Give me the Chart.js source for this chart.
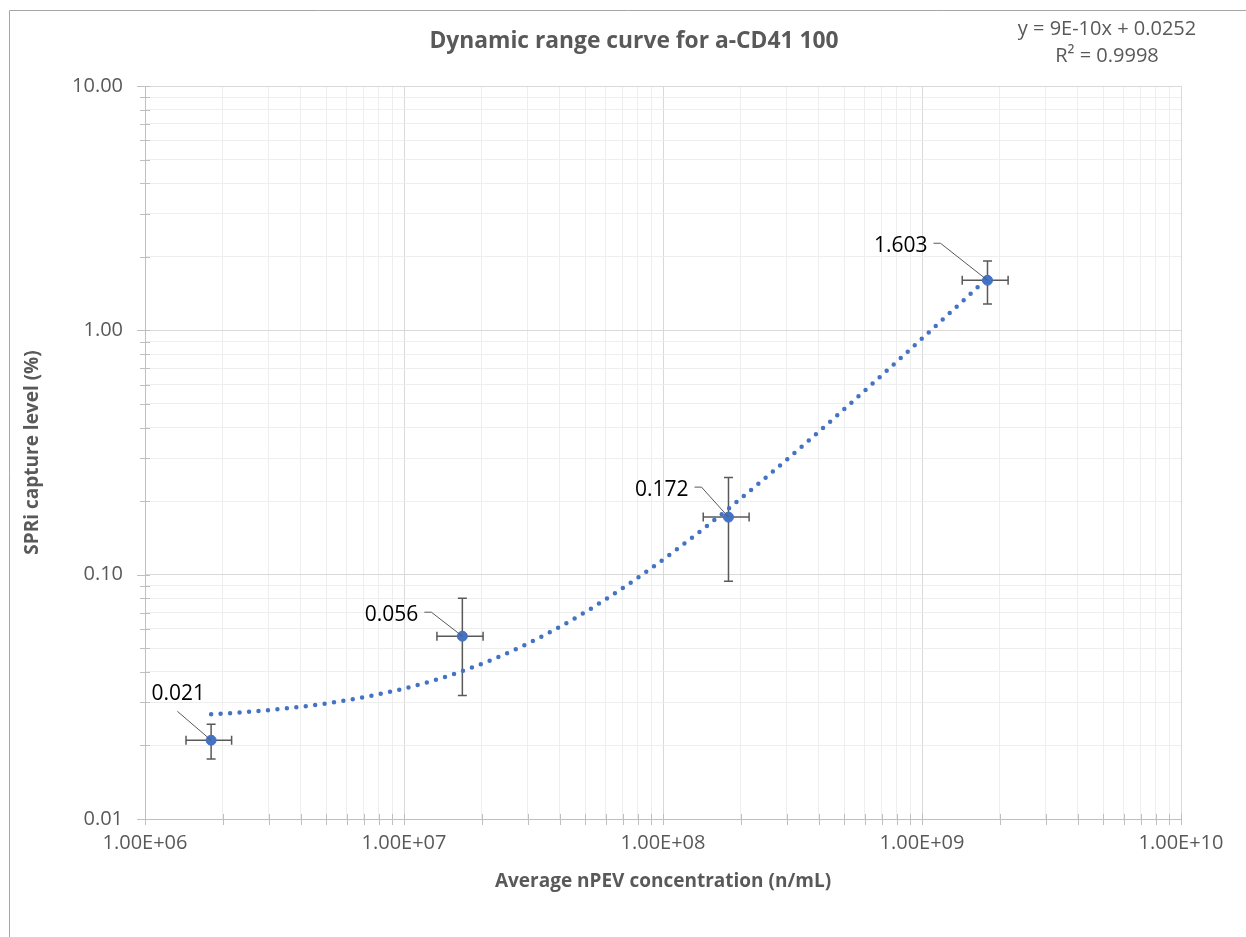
<!DOCTYPE html>
<html><head><meta charset="utf-8">
<script src="https://cdn.jsdelivr.net/npm/chart.js@4.4.1/dist/chart.umd.min.js"></script>
<style>html,body{margin:0;padding:0;background:#fff;}#wrap{width:1246px;height:937px;position:relative;}</style>
</head><body><div id="wrap"><canvas id="c" width="1246" height="937"></canvas></div>
<script>
// ---- data ----
const concentrations = [1.8e6, 1.68e7, 1.79e8, 1.79e9];      // x (n/mL)
const captureLevels  = [0.021, 0.056, 0.172, 1.603];          // y (%)
const concErrors     = [3.6e5, 3.4e6, 3.6e7, 3.6e8];          // ± x
const captureErrors  = [0.0034, 0.024, 0.078, 0.32];          // ± y
const pointLabels    = ['0.021', '0.056', '0.172', '1.603'];
const trendSlope = 9e-10;
const trendIntercept = 0.0252;
const trendText = ['y = 9E-10x + 0.0252', 'R\u00B2 = 0.9998'];
const xDecadeLabels = ['1.00E+06', '1.00E+07', '1.00E+08', '1.00E+09', '1.00E+10'];
const yDecadeLabels = ['0.01', '0.10', '1.00', '10.00'];
const chartTitle = 'Dynamic range curve for a-CD41 100';
const xTitle = 'Average nPEV concentration (n/mL)';
const yTitle = 'SPRi capture level (%)';

// ---- styling ----
const FONT = '"Open Sans", "DejaVu Sans", sans-serif';
const GREY = '#595959';
const BLUE = '#4472C4';

const isDecade = v => Math.abs(Math.log10(v) - Math.round(Math.log10(v))) < 1e-9;
function logTicks(minExp, maxExp) {
  const out = [];
  for (let e = minExp; e < maxExp; e++) for (let k = 1; k <= 9; k++) out.push(k * Math.pow(10, e));
  out.push(Math.pow(10, maxExp));
  return out;
}

// trendline drawn from the equation shown on the chart
const trendPoints = [];
{
  const n = 160, a = Math.log10(concentrations[0]), b = Math.log10(concentrations[concentrations.length - 1]);
  for (let i = 0; i <= n; i++) {
    const x = Math.pow(10, a + (b - a) * i / n);
    trendPoints.push({x, y: trendSlope * x + trendIntercept});
  }
}

const decor = {
  id: 'decor',
  beforeDraw(chart) {
    const c = chart.ctx;
    c.save();
    c.fillStyle = '#fff'; c.fillRect(0, 0, chart.width, chart.height);
    c.strokeStyle = '#a6a6a6'; c.lineWidth = 1;
    c.beginPath(); c.moveTo(9.5, chart.height); c.lineTo(9.5, 10.5); c.lineTo(chart.width, 10.5); c.stroke();
    c.restore();
  },
  beforeDatasetsDraw(chart) {
    const c = chart.ctx, xs = chart.scales.x, ys = chart.scales.y;
    c.save(); c.strokeStyle = '#bfbfbf'; c.lineWidth = 1;
    c.beginPath();
    xs.ticks.forEach(t => { const p = Math.round(xs.getPixelForValue(t.value)) + 0.5; c.moveTo(p, ys.bottom - 5); c.lineTo(p, ys.bottom + 6); });
    ys.ticks.forEach(t => { const p = Math.round(ys.getPixelForValue(t.value)) + 0.5; c.moveTo(xs.left - (t.major ? 8 : 5), p); c.lineTo(xs.left + 5, p); });
    c.stroke(); c.restore();
  },
  beforeDatasetDraw(chart, args) {
    if (args.index !== 1) return;
    const c = chart.ctx, xs = chart.scales.x, ys = chart.scales.y, cap = 4.5;
    c.save(); c.strokeStyle = '#595959'; c.lineWidth = 1.5;
    concentrations.forEach((x, i) => {
      const y = captureLevels[i];
      const px = xs.getPixelForValue(x), py = ys.getPixelForValue(y);
      const x1 = xs.getPixelForValue(x - concErrors[i]), x2 = xs.getPixelForValue(x + concErrors[i]);
      const y1 = ys.getPixelForValue(y + captureErrors[i]), y2 = ys.getPixelForValue(y - captureErrors[i]);
      c.beginPath();
      c.moveTo(x1, py); c.lineTo(x2, py);
      c.moveTo(x1, py - cap); c.lineTo(x1, py + cap);
      c.moveTo(x2, py - cap); c.lineTo(x2, py + cap);
      c.moveTo(px, y1); c.lineTo(px, y2);
      c.moveTo(px - cap, y1); c.lineTo(px + cap, y1);
      c.moveTo(px - cap, y2); c.lineTo(px + cap, y2);
      c.stroke();
    });
    c.restore();
  },
  afterDatasetsDraw(chart) {
    const c = chart.ctx, xs = chart.scales.x, ys = chart.scales.y;
    // label placement (style): [label right-edge dx, label center dy] relative to point
    const place = [[-6, -46, 'below'], [-44, -21, 'side'], [-40, -27, 'side'], [-60, -34, 'side']];
    c.save();
    c.font = '21px ' + FONT; c.fillStyle = '#000'; c.textBaseline = 'middle'; c.textAlign = 'right';
    concentrations.forEach((x, i) => {
      const px = xs.getPixelForValue(x), py = ys.getPixelForValue(captureLevels[i]);
      const [dx, dy, mode] = place[i];
      const rx = px + dx, cy = py + dy;
      c.fillText(pointLabels[i], rx, cy);
      c.strokeStyle = '#595959'; c.lineWidth = 1;
      c.beginPath();
      if (mode === 'below') {
        const w = c.measureText(pointLabels[i]).width;
        c.moveTo(rx - w / 2 - 1, cy + 17); c.lineTo(px, py);
      } else {
        c.moveTo(rx + 6, cy - 3); c.lineTo(rx + 13, cy - 3); c.lineTo(px, py);
      }
      c.stroke();
    });
    c.restore();
  },
  afterDraw(chart) {
    const c = chart.ctx;
    c.save();
    c.fillStyle = GREY; c.textAlign = 'center'; c.textBaseline = 'middle';
    c.font = 'bold 22.8px ' + FONT;
    c.fillText(chartTitle, 634, 42);
    c.font = '20px ' + FONT;
    c.fillText(trendText[0], 1107, 29);
    c.fillText(trendText[1], 1107, 56);
    c.restore();
  }
};

function build() {
  new Chart(document.getElementById('c'), {
    type: 'scatter',
    data: {
      datasets: [
        { type: 'line', label: 'Trend', data: trendPoints, borderColor: BLUE, borderWidth: 4.5,
          borderDash: [0, 9.5], borderCapStyle: 'round', pointRadius: 0, fill: false, tension: 0 },
        { label: 'a-CD41 100', data: concentrations.map((x, i) => ({x, y: captureLevels[i]})),
          pointRadius: 5, pointBackgroundColor: BLUE, pointBorderColor: BLUE, showLine: false }
      ]
    },
    options: {
      responsive: false, animation: false, devicePixelRatio: 1,
      layout: { padding: { top: 86, right: 65, bottom: 0, left: 0 } },
      plugins: { legend: { display: false }, tooltip: { enabled: false }, title: { display: false } },
      scales: {
        x: {
          type: 'logarithmic', position: 'bottom', min: 1e6, max: 1e10,
          afterBuildTicks: s => { s.ticks = logTicks(6, 10).map(v => ({value: v, major: isDecade(v)})); },
          afterFit: s => { s.height = 118; },
          ticks: { autoSkip: false, maxRotation: 0, minRotation: 0, color: GREY, padding: 12,
                   font: { family: FONT, size: 20 },
                   callback: v => isDecade(v) ? xDecadeLabels[Math.round(Math.log10(v)) - 6] : '' },
          grid: { drawTicks: false, color: ctx => (ctx.tick && isDecade(ctx.tick.value)) ? '#d9d9d9' : '#eeeeee' },
          border: { color: '#bfbfbf' },
          title: { display: true, text: xTitle, color: GREY, font: { family: FONT, size: 19, weight: 'bold' },
                   padding: { top: 0, bottom: 43.6 } }
        },
        y: {
          type: 'logarithmic', position: 'left', min: 0.01, max: 10,
          afterBuildTicks: s => { s.ticks = logTicks(-2, 1).map(v => ({value: v, major: isDecade(v)})); },
          afterFit: s => { s.width = 145; },
          ticks: { autoSkip: false, color: GREY, padding: 22, font: { family: FONT, size: 20 },
                   callback: v => isDecade(v) ? yDecadeLabels[Math.round(Math.log10(v)) + 2] : '' },
          grid: { drawTicks: false, color: ctx => (ctx.tick && isDecade(ctx.tick.value)) ? '#d9d9d9' : '#eeeeee' },
          border: { color: '#bfbfbf' },
          title: { display: true, text: yTitle, color: GREY, font: { family: FONT, size: 19, weight: 'bold' },
                   padding: { top: 21.6, bottom: 0 } }
        }
      }
    },
    plugins: [decor]
  });
}
const fontLoads = [document.fonts.load('20px "Open Sans"'), document.fonts.load('bold 19px "Open Sans"')];
Promise.race([Promise.all(fontLoads), new Promise(r => setTimeout(r, 800))]).then(build, build);
</script>
</body></html>
